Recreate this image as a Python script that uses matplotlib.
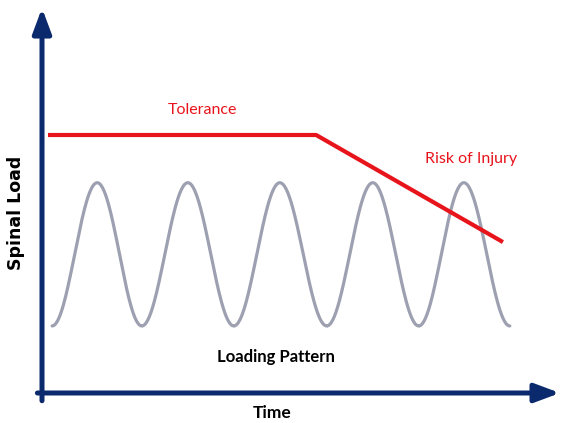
import numpy as np
import matplotlib
matplotlib.use("Agg")
import matplotlib.pyplot as plt

# Conceptual data (time units, load units)
extrema_times = [0.22, 1.20, 2.17, 3.17, 4.17, 5.17, 6.19, 7.19, 8.19, 9.17, 10.17]
extrema_loads = [2.6, 8.15, 2.6, 8.15, 2.6, 8.15, 2.6, 8.15, 2.6, 8.15, 2.6]
tol_times = [0.13, 5.96, 10.02]
tol_loads = [10.0, 10.0, 5.85]

navy = "#0b2a6e"
red = "#e8141b"
gray = "#9da0b0"

fig = plt.figure(figsize=(5.62, 4.23), dpi=100)
ax = fig.add_axes([0, 0, 1, 1])
ax.set_xlim(-42 / 46, 520 / 46)
ax.set_ylim(-30 / 25.8, 393 / 25.8)
ax.axis("off")

# Loading pattern: cosine-shaped transitions between successive extrema
xs, ys = [], []
for i in range(len(extrema_times) - 1):
    t0, t1 = extrema_times[i], extrema_times[i + 1]
    l0, l1 = extrema_loads[i], extrema_loads[i + 1]
    s = np.linspace(0, 1, 60)
    xs.extend(t0 + (t1 - t0) * s)
    ys.extend(l0 + (l1 - l0) * (1 - np.cos(np.pi * s)) / 2)
ax.plot(xs, ys, color=gray, lw=2.3, solid_capstyle="round", zorder=2)

# Tolerance line
ax.plot(tol_times, tol_loads, color=red, lw=3.0, solid_capstyle="butt", zorder=3)

# Axes arrows
style = "-|>,head_length=0.75,head_width=0.28"
ax.annotate("", xy=(0, 14.92), xytext=(0, -0.3),
            arrowprops=dict(arrowstyle=style, lw=3.6,
                            color=navy, shrinkA=0, shrinkB=0, mutation_scale=20), zorder=4)
ax.annotate("", xy=(11.26, 0), xytext=(-0.1, 0),
            arrowprops=dict(arrowstyle=style, lw=3.6,
                            color=navy, shrinkA=0, shrinkB=0, mutation_scale=20), zorder=4)

font = ["Lato", "DejaVu Sans"]
ax.text(3.48, 10.97, "Tolerance", color=red, fontsize=11.5, family=font, ha="center", va="center")
ax.text(9.33, 9.06, "Risk of Injury", color=red, fontsize=11.5, family=font, ha="center", va="center")
ax.text(5.09, 1.38, "Loading Pattern", color="black", fontsize=12, family=font, ha="center",
        va="center", fontweight="bold")
ax.text(5.0, -0.78, "Time", color="black", fontsize=12.5, family=font, ha="center", va="center",
        fontweight="bold")
ax.text(-0.57, 6.98, "Spinal Load", color="black", fontsize=12.5, family="DejaVu Sans",
        fontweight="bold", rotation=90, ha="center", va="center")

fig.savefig("out.png", dpi=100)
